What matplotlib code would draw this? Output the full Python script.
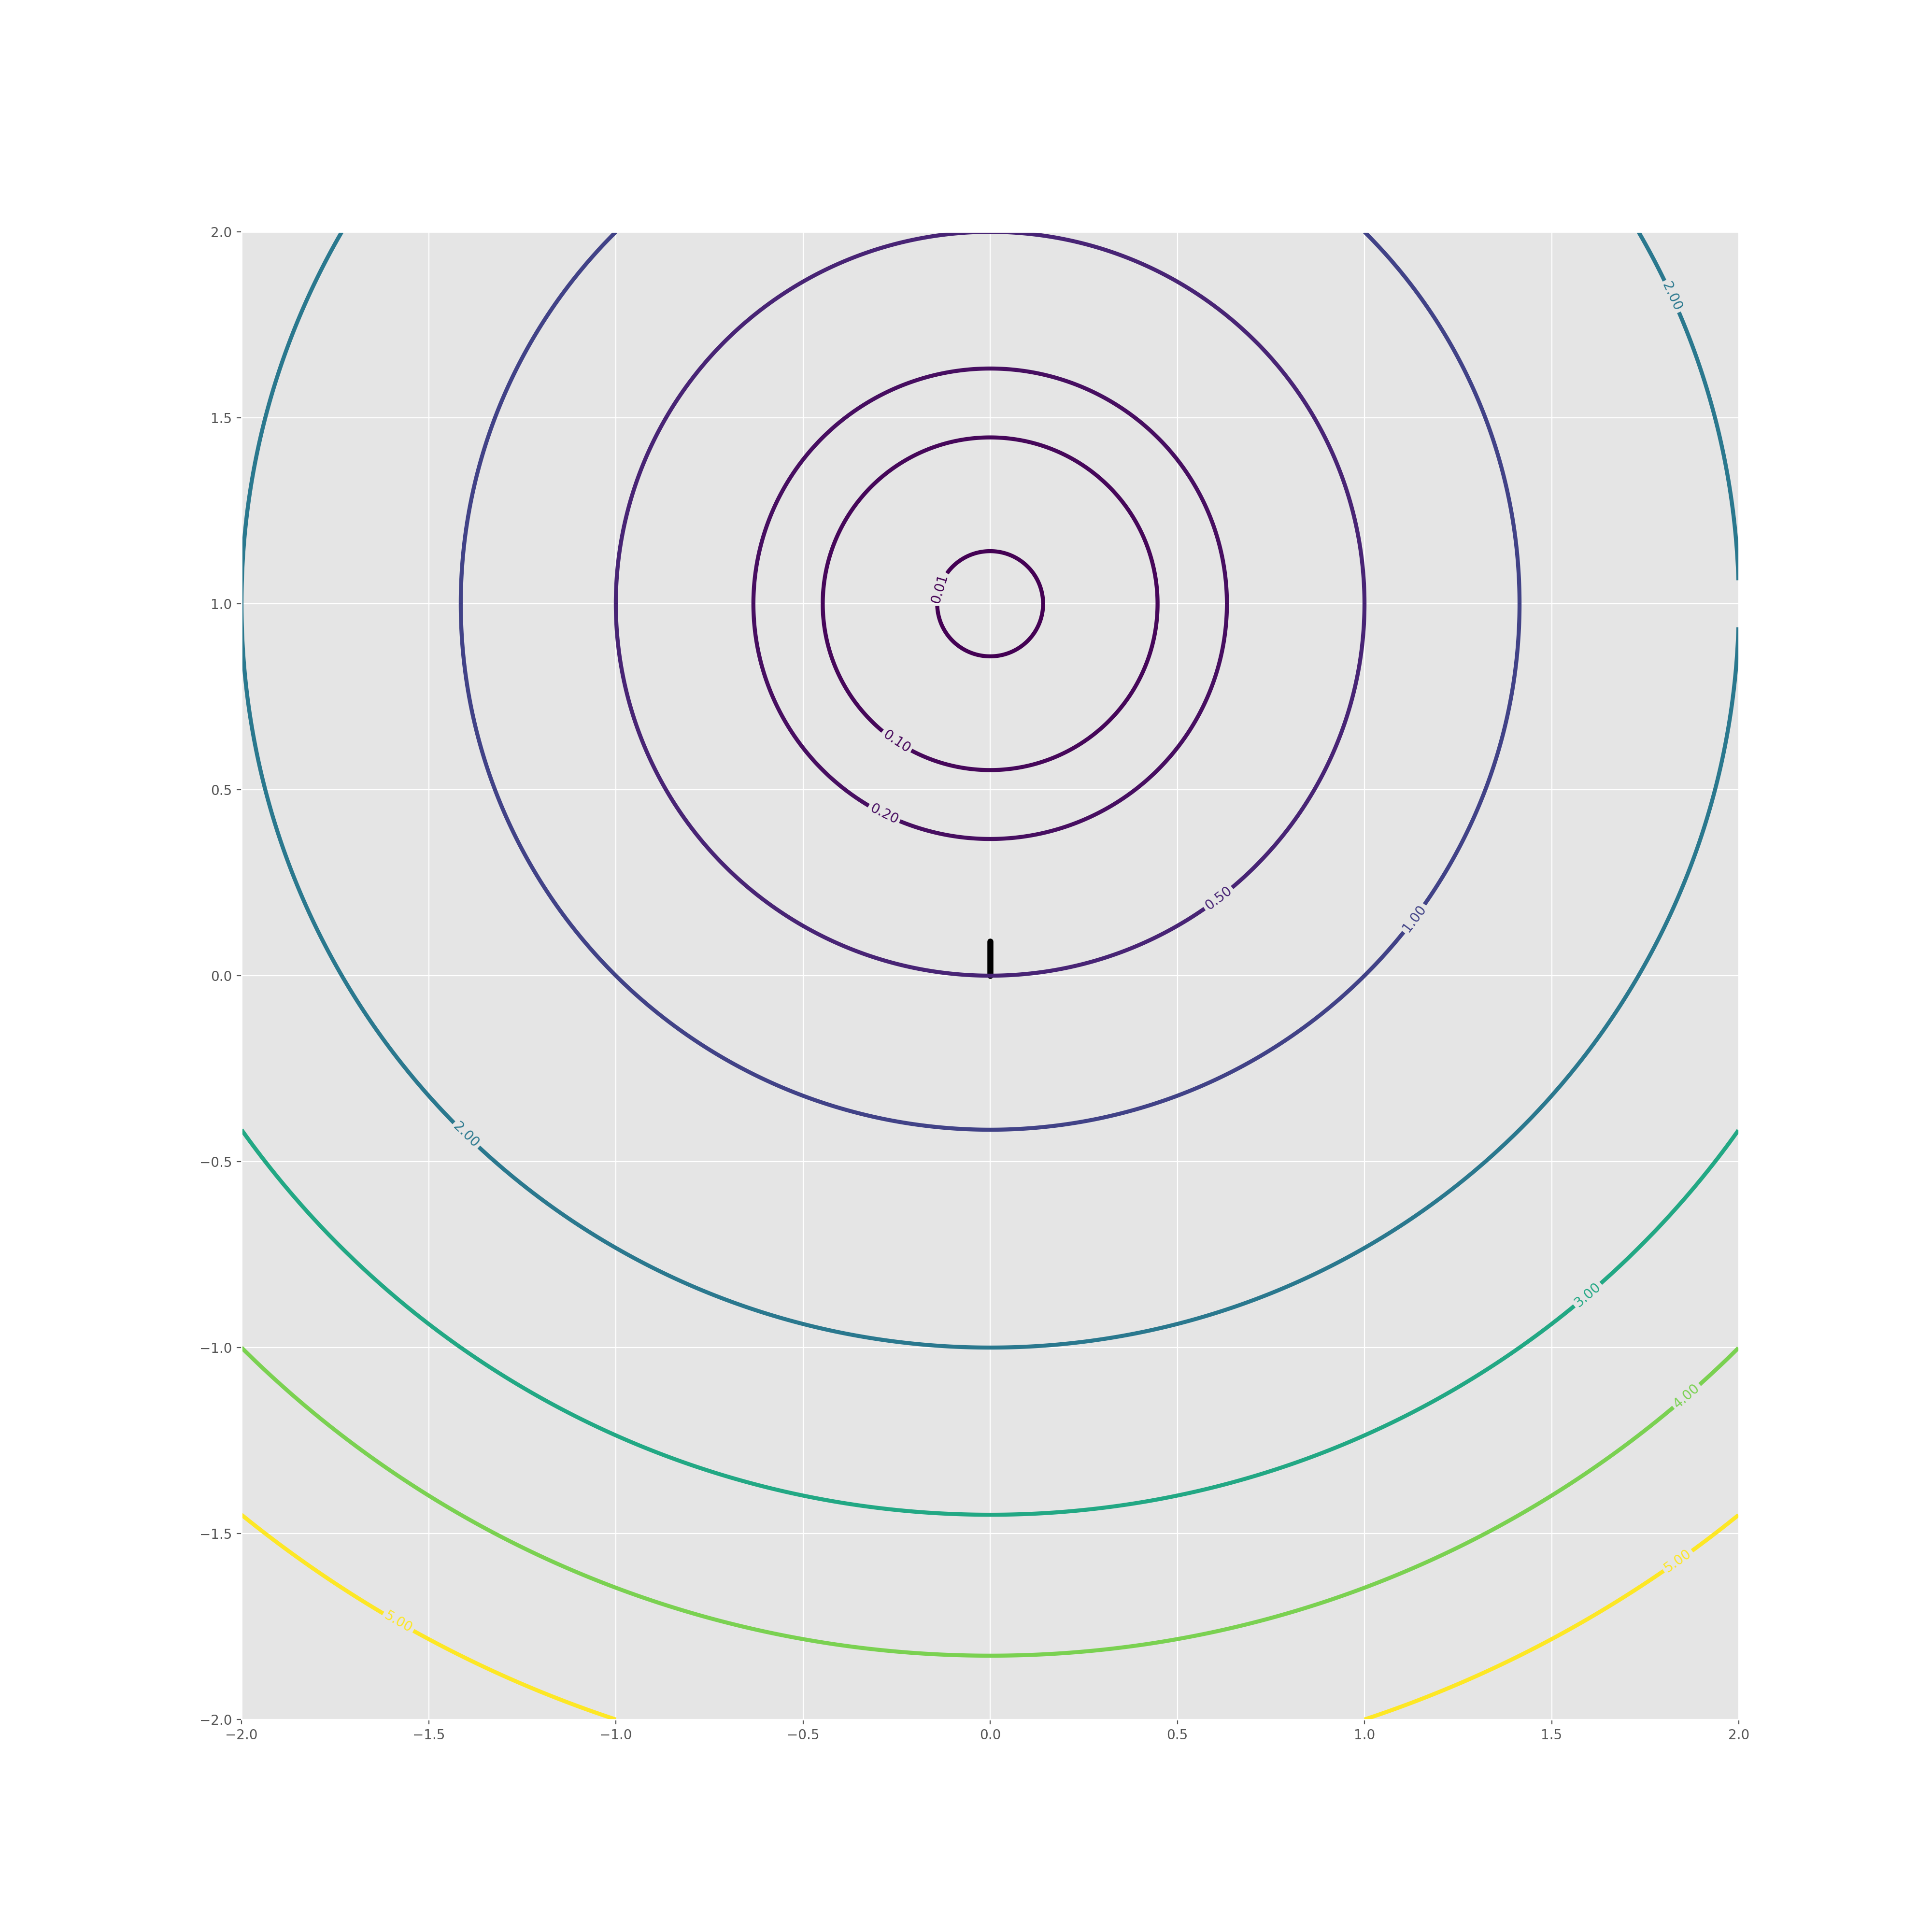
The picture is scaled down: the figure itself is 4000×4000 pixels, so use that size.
import numpy as np
import matplotlib
matplotlib.use('Agg')
import matplotlib.pyplot as plt

plt.style.use('ggplot')

# contour levels of f(x, y) = (x^2 + (y - 1)^2) / 2
levels = [0.01, 0.1, 0.2, 0.5, 1.0, 2.0, 3.0, 4.0, 5.0]
center = (0.0, 1.0)

# path drawn in black
path_x = [0.0, 0.0]
path_y = [0.0, 0.092]

# where the contour labels sit
label_spots = [(-0.135, 1.04), (-0.25, 0.63), (-0.283, 0.436), (0.613, 0.204),
               (1.137, 0.151), (1.825, 1.828), (-1.40, -0.429), (1.598, -0.86),
               (1.862, -1.132), (-1.585, -1.745), (1.839, -1.576)]

xs = np.arange(-2, 2, 0.001)
ys = np.linspace(-2, 2, 4001)
X, Y = np.meshgrid(xs, ys)
Z = ((X - center[0]) ** 2 + (Y - center[1]) ** 2) / 2

fig, ax = plt.subplots(figsize=(20, 20), dpi=200)
ax.plot(path_x, path_y, color='black', linewidth=4.5, solid_capstyle='round')
cs = ax.contour(X, Y, Z, levels=levels, cmap='viridis', linewidths=3)
ax.clabel(cs, inline=True, fmt='%1.2f', fontsize=10, manual=label_spots)

ax.set_xlim(-2, 2)
ax.set_ylim(-2, 2)

plt.savefig('out.png')
plt.close()
